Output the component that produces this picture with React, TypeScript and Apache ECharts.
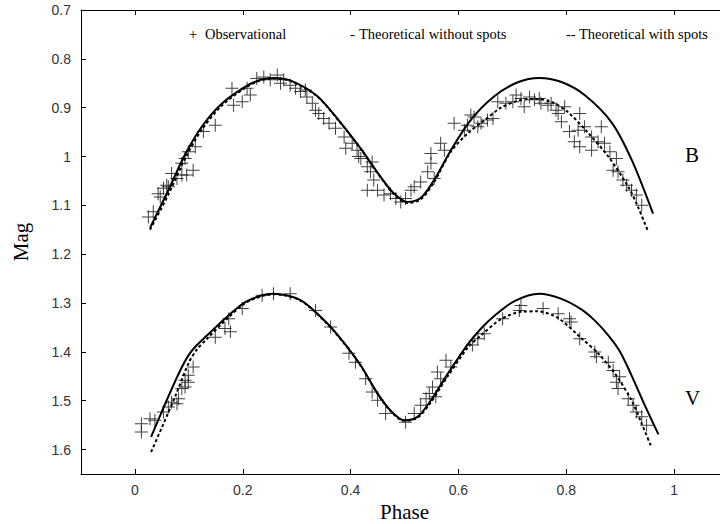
import React, { useEffect, useRef } from 'react';
import * as echarts from 'echarts';

const xTickValues = [0, 0.2, 0.4, 0.6, 0.8, 1];

const bObserved = [
  [0.025, 1.124], [0.034, 1.113], [0.043, 1.076], [0.047, 1.083], [0.053, 1.065], [0.059, 1.059],
  [0.062, 1.062], [0.068, 1.035], [0.078, 1.045], [0.087, 1.014], [0.093, 1.004], [0.087, 1.038],
  [0.096, 1.038], [0.108, 1.028], [0.099, 0.99], [0.112, 0.98], [0.127, 0.949], [0.149, 0.936],
  [0.18, 0.86], [0.183, 0.895], [0.199, 0.888], [0.208, 0.86], [0.214, 0.874], [0.226, 0.84],
  [0.239, 0.837], [0.251, 0.843], [0.264, 0.833], [0.27, 0.85], [0.276, 0.843], [0.288, 0.854],
  [0.298, 0.86], [0.307, 0.867], [0.316, 0.864], [0.319, 0.878], [0.329, 0.891], [0.335, 0.905],
  [0.341, 0.912], [0.35, 0.922], [0.36, 0.932], [0.372, 0.942], [0.388, 0.96], [0.391, 0.983],
  [0.403, 0.973], [0.412, 0.987], [0.415, 1.0], [0.419, 1.004], [0.431, 1.021], [0.44, 1.011],
  [0.437, 1.031], [0.443, 1.048], [0.431, 1.069], [0.45, 1.069], [0.462, 1.079], [0.474, 1.076],
  [0.484, 1.086], [0.493, 1.093], [0.502, 1.086], [0.512, 1.069], [0.518, 1.062], [0.53, 1.052],
  [0.543, 1.031], [0.549, 1.014], [0.555, 1.045], [0.549, 0.994], [0.567, 0.973], [0.574, 0.987],
  [0.592, 0.932], [0.617, 0.936], [0.623, 0.915], [0.636, 0.939], [0.611, 0.946], [0.629, 0.919],
  [0.642, 0.932], [0.654, 0.925], [0.664, 0.922], [0.673, 0.888], [0.688, 0.891], [0.701, 0.888],
  [0.707, 0.874], [0.716, 0.881], [0.722, 0.898], [0.732, 0.878], [0.741, 0.884], [0.75, 0.881],
  [0.753, 0.891], [0.766, 0.895], [0.772, 0.891], [0.785, 0.912], [0.781, 0.905], [0.797, 0.898],
  [0.791, 0.929], [0.825, 0.912], [0.806, 0.949], [0.822, 0.946], [0.834, 0.939], [0.865, 0.939],
  [0.815, 0.97], [0.825, 0.98], [0.847, 0.987], [0.847, 0.96], [0.859, 0.97], [0.871, 0.973],
  [0.881, 0.99], [0.893, 1.004], [0.887, 1.028], [0.896, 1.031], [0.905, 1.048], [0.912, 1.059],
  [0.921, 1.069], [0.93, 1.079], [0.94, 1.1],
];

const vObserved = [
  [0.012, 1.547], [0.012, 1.564], [0.028, 1.537], [0.037, 1.54], [0.053, 1.523], [0.062, 1.513],
  [0.068, 1.503], [0.078, 1.506], [0.081, 1.496], [0.087, 1.475], [0.093, 1.472], [0.093, 1.458],
  [0.099, 1.462], [0.099, 1.448], [0.108, 1.431], [0.149, 1.37], [0.167, 1.352], [0.177, 1.359],
  [0.174, 1.332], [0.199, 1.311], [0.236, 1.284], [0.257, 1.281], [0.288, 1.281], [0.335, 1.315],
  [0.363, 1.349], [0.397, 1.403], [0.409, 1.421], [0.428, 1.455], [0.44, 1.482], [0.45, 1.499],
  [0.465, 1.526], [0.502, 1.544], [0.518, 1.526], [0.53, 1.509], [0.54, 1.496], [0.546, 1.485],
  [0.552, 1.472], [0.558, 1.492], [0.561, 1.441], [0.567, 1.455], [0.577, 1.417], [0.586, 1.431],
  [0.626, 1.386], [0.636, 1.373], [0.648, 1.363], [0.682, 1.332], [0.716, 1.305], [0.713, 1.315],
  [0.757, 1.311], [0.785, 1.322], [0.806, 1.332], [0.809, 1.339], [0.825, 1.373], [0.853, 1.4],
  [0.856, 1.41], [0.878, 1.421], [0.887, 1.438], [0.899, 1.451], [0.893, 1.462], [0.896, 1.475],
  [0.915, 1.496], [0.924, 1.509], [0.93, 1.523], [0.94, 1.533], [0.949, 1.55],
];

const bWithoutSpots = [
  [0.028, 1.146], [0.062, 1.069], [0.093, 0.996], [0.124, 0.939], [0.161, 0.892], [0.205, 0.857],
  [0.233, 0.843], [0.257, 0.839], [0.29, 0.845], [0.338, 0.876], [0.381, 0.93], [0.419, 0.984],
  [0.456, 1.042], [0.48, 1.075], [0.505, 1.093], [0.53, 1.085], [0.555, 1.048], [0.586, 0.987],
  [0.623, 0.925], [0.666, 0.877], [0.71, 0.848], [0.75, 0.839], [0.79, 0.847], [0.834, 0.874],
  [0.884, 0.93], [0.921, 1.006], [0.961, 1.117],
];

const bWithSpots = [
  [0.028, 1.15], [0.062, 1.078], [0.093, 1.004], [0.124, 0.945], [0.161, 0.896], [0.205, 0.859],
  [0.233, 0.844], [0.257, 0.84], [0.29, 0.846], [0.338, 0.877], [0.381, 0.931], [0.419, 0.985],
  [0.456, 1.043], [0.48, 1.077], [0.505, 1.095], [0.53, 1.088], [0.555, 1.052], [0.586, 0.99],
  [0.617, 0.953], [0.648, 0.926], [0.679, 0.9], [0.71, 0.886], [0.741, 0.882], [0.772, 0.888],
  [0.803, 0.909], [0.84, 0.951], [0.878, 1.0], [0.915, 1.062], [0.933, 1.103], [0.952, 1.154],
];

const vWithoutSpots = [
  [0.03, 1.574], [0.059, 1.499], [0.084, 1.438], [0.1, 1.406], [0.115, 1.386], [0.133, 1.367],
  [0.171, 1.328], [0.208, 1.296], [0.257, 1.281], [0.307, 1.294], [0.357, 1.342], [0.394, 1.39],
  [0.419, 1.428], [0.45, 1.485], [0.474, 1.52], [0.499, 1.54], [0.524, 1.533], [0.549, 1.499],
  [0.58, 1.445], [0.617, 1.385], [0.642, 1.352], [0.667, 1.326], [0.704, 1.296], [0.75, 1.281],
  [0.79, 1.291], [0.828, 1.313], [0.853, 1.336], [0.878, 1.366], [0.9, 1.4], [0.921, 1.448],
  [0.946, 1.51], [0.971, 1.569],
];

const vWithSpots = [
  [0.03, 1.605], [0.053, 1.547], [0.077, 1.485], [0.1, 1.422], [0.115, 1.395], [0.133, 1.374],
  [0.171, 1.332], [0.208, 1.298], [0.257, 1.282], [0.307, 1.295], [0.357, 1.343], [0.394, 1.391],
  [0.419, 1.429], [0.45, 1.486], [0.474, 1.521], [0.499, 1.541], [0.524, 1.535], [0.549, 1.503],
  [0.58, 1.45], [0.617, 1.392], [0.642, 1.366], [0.679, 1.333], [0.716, 1.318], [0.747, 1.317],
  [0.785, 1.331], [0.828, 1.372], [0.859, 1.403], [0.89, 1.444], [0.921, 1.499], [0.94, 1.547],
  [0.958, 1.595],
];

const crossSymbol = 'path://M6,0H7V6H13V7H7V13H6V7H0V6H6Z';
const serif = '"Liberation Serif", "Times New Roman", serif';
const sans = '"Liberation Sans", Arial, sans-serif';

export default function App() {
  const ref = useRef<HTMLDivElement>(null);

  useEffect(() => {
    if (!ref.current) return;
    const chart = echarts.init(ref.current, null, { renderer: 'svg' });
    const fmt = (v: number) => String(+(+v).toFixed(2));
    const axisLine = { show: true, onZero: false, lineStyle: { color: '#000', width: 1 } };
    const tickStyle = { color: '#000', width: 1 };
    const obsSeries = (name: string, data: number[][]) => ({
      type: 'scatter',
      name,
      data,
      symbol: crossSymbol,
      symbolSize: 13,
      itemStyle: { color: '#111' },
      z: 2,
    });
    const lineSeries = (name: string, data: number[][], dashed: boolean) => ({
      type: 'line',
      name,
      data,
      symbol: 'none',
      showSymbol: false,
      smooth: 0.3,
      lineStyle: { color: '#000', width: 2, type: dashed ? [3, 2.5] : 'solid' },
      z: 3,
    });

    chart.setOption({
      animation: false,
      backgroundColor: '#fff',
      grid: { left: 81, top: 10, width: 647, height: 464, containLabel: false, outerBoundsMode: 'none' },
      xAxis: [
        {
          type: 'value',
          position: 'bottom',
          min: -0.1,
          max: 1.1,
          axisLine,
          axisTick: { show: true, inside: true, length: 5, customValues: xTickValues, lineStyle: tickStyle },
          axisLabel: {
            customValues: xTickValues,
            formatter: fmt,
            fontFamily: sans,
            fontSize: 14,
            color: '#333',
            margin: 9,
          },
          splitLine: { show: false },
          name: 'Phase',
          nameLocation: 'middle',
          nameGap: 23,
          nameTextStyle: { fontFamily: serif, fontSize: 21, color: '#000' },
        },
        {
          type: 'value',
          position: 'top',
          min: -0.1,
          max: 1.1,
          axisLine,
          axisTick: { show: true, inside: true, length: 5, customValues: xTickValues, lineStyle: tickStyle },
          axisLabel: { show: false },
          splitLine: { show: false },
        },
      ],
      yAxis: {
        type: 'value',
        inverse: true,
        min: 0.7,
        max: 1.65,
        interval: 0.1,
        axisLine,
        axisTick: { show: true, inside: true, length: 5, lineStyle: tickStyle },
        axisLabel: {
          formatter: fmt,
          fontFamily: sans,
          fontSize: 14,
          color: '#333',
          margin: 10,
          showMaxLabel: false,
        },
        splitLine: { show: false },
        name: 'Mag',
        nameLocation: 'middle',
        nameGap: 50,
        nameTextStyle: { fontFamily: serif, fontSize: 21, color: '#000' },
      },
      series: [
        obsSeries('Observational B', bObserved),
        obsSeries('Observational V', vObserved),
        lineSeries('Theoretical without spots B', bWithoutSpots, false),
        lineSeries('Theoretical with spots B', bWithSpots, true),
        lineSeries('Theoretical without spots V', vWithoutSpots, false),
        lineSeries('Theoretical with spots V', vWithSpots, true),
      ],
      graphic: [
        { type: 'text', x: 189, y: 34, style: { text: '+', font: `14.5px ${serif}`, fill: '#000', align: 'left', verticalAlign: 'middle' } },
        { type: 'text', x: 205, y: 34, style: { text: 'Observational', font: `14.5px ${serif}`, fill: '#000', align: 'left', verticalAlign: 'middle' } },
        { type: 'text', x: 350, y: 34, style: { text: '-', font: `14.5px ${serif}`, fill: '#000', align: 'left', verticalAlign: 'middle' } },
        { type: 'text', x: 359, y: 34, style: { text: 'Theoretical without spots', font: `14.5px ${serif}`, fill: '#000', align: 'left', verticalAlign: 'middle' } },
        { type: 'text', x: 566, y: 34, style: { text: '--', font: `14.5px ${serif}`, fill: '#000', align: 'left', verticalAlign: 'middle' } },
        { type: 'text', x: 579, y: 34, style: { text: 'Theoretical with spots', font: `14.5px ${serif}`, fill: '#000', align: 'left', verticalAlign: 'middle' } },
        { type: 'text', x: 685, y: 155, style: { text: 'B', font: `21px ${serif}`, fill: '#000', align: 'left', verticalAlign: 'middle' } },
        { type: 'text', x: 685, y: 398, style: { text: 'V', font: `21px ${serif}`, fill: '#000', align: 'left', verticalAlign: 'middle' } },
      ],
    });
    return () => chart.dispose();
  }, []);

  return (
    <div
      ref={ref}
      style={{ position: 'absolute', left: 0, top: 0, width: 720, height: 524, background: '#fff' }}
    />
  );
}
